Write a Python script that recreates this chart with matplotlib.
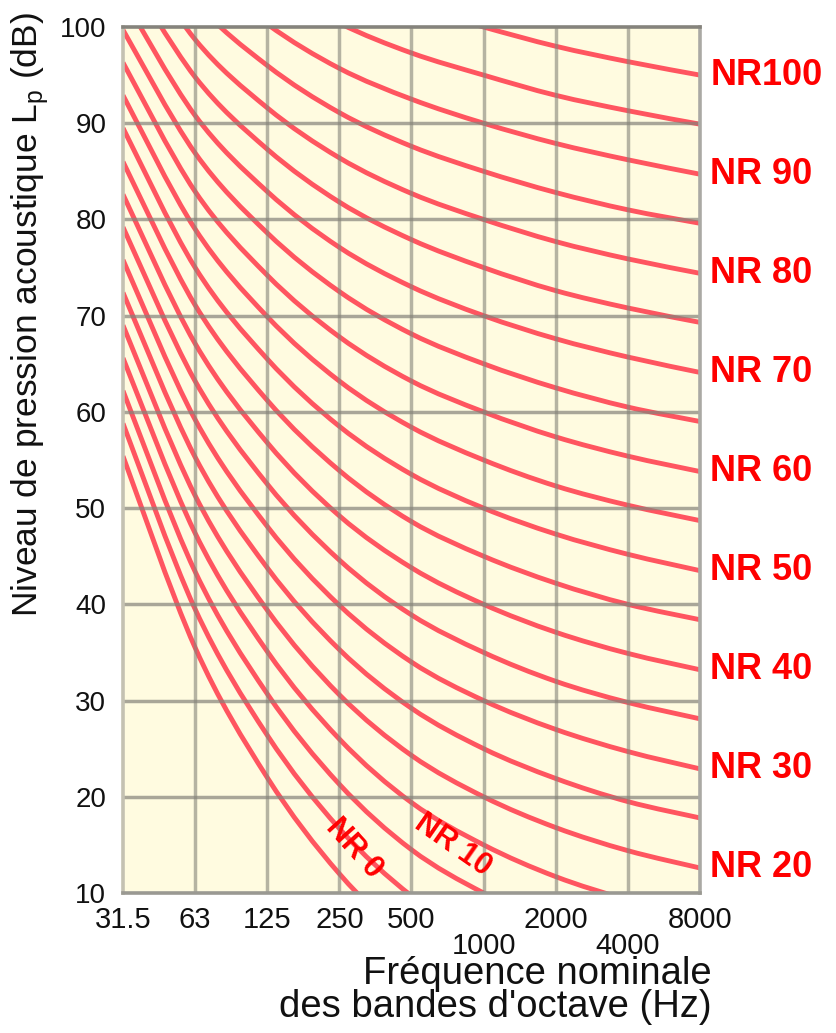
import matplotlib
matplotlib.use("Agg")
import matplotlib.pyplot as plt
import numpy as np
from matplotlib.path import Path
from matplotlib.patches import PathPatch

plt.rcParams['font.family'] = ['Liberation Sans', 'DejaVu Sans']
plt.rcParams['mathtext.fontset'] = 'custom'
plt.rcParams['mathtext.rm'] = 'Liberation Sans'

# Octave-band centre frequencies (Hz)
freq_labels = ["31.5", "63", "125", "250", "500", "1000", "2000", "4000", "8000"]

# Noise Rating levels (dB) per octave band, one row per NR curve
nr_values = [0, 5, 10, 15, 20, 25, 30, 35, 40, 45, 50,
             55, 60, 65, 70, 75, 80, 85, 90, 95, 100]
nr_levels = [
    [55.4, 35.5, 22.0, 12.0, 4.8, 0.0, -3.5, -6.1, -8.0],
    [58.8, 39.5, 26.4, 16.7, 9.7, 5.0, 1.6, -1.0, -2.9],
    [62.2, 43.4, 30.7, 21.3, 14.5, 10.0, 6.7, 4.2, 2.3],
    [65.6, 47.4, 35.1, 26.0, 19.4, 15.0, 11.7, 9.3, 7.5],
    [69.0, 51.3, 39.4, 30.6, 24.3, 20.0, 16.8, 14.4, 12.6],
    [72.4, 55.3, 43.8, 35.3, 29.2, 25.0, 21.9, 19.5, 17.8],
    [75.8, 59.2, 48.1, 39.9, 34.0, 30.0, 27.0, 24.7, 22.9],
    [79.2, 63.2, 52.5, 44.6, 38.9, 35.0, 32.0, 29.8, 28.1],
    [82.6, 67.1, 56.8, 49.2, 43.8, 40.0, 37.1, 34.9, 33.2],
    [86.0, 71.1, 61.2, 53.9, 48.6, 45.0, 42.2, 40.0, 38.4],
    [89.5, 75.0, 65.5, 58.5, 53.5, 50.0, 47.3, 45.2, 43.5],
    [92.9, 79.0, 69.9, 63.2, 58.4, 55.0, 52.3, 50.3, 48.7],
    [96.3, 82.9, 74.2, 67.8, 63.2, 60.0, 57.4, 55.4, 53.8],
    [99.7, 86.9, 78.6, 72.5, 68.1, 65.0, 62.5, 60.5, 59.0],
    [103.1, 90.8, 82.9, 77.1, 73.0, 70.0, 67.6, 65.7, 64.1],
    [106.5, 94.8, 87.3, 81.8, 77.9, 75.0, 72.6, 70.8, 69.3],
    [109.9, 98.7, 91.6, 86.4, 82.7, 80.0, 77.7, 75.9, 74.4],
    [113.3, 102.7, 96.0, 91.1, 87.6, 85.0, 82.8, 81.0, 79.6],
    [116.7, 106.6, 100.3, 95.7, 92.5, 90.0, 87.9, 86.2, 84.7],
    [120.1, 110.6, 104.7, 100.4, 97.3, 95.0, 92.9, 91.3, 89.9],
    [123.5, 114.5, 109.0, 105.0, 102.2, 100.0, 98.0, 96.4, 95.0],
]
right_labels = ["NR100", "NR 90", "NR 80", "NR 70", "NR 60",
                "NR 50", "NR 40", "NR 30", "NR 20"]
right_label_nr = [100, 90, 80, 70, 60, 50, 40, 30, 20]
y_ticks = [10, 20, 30, 40, 50, 60, 70, 80, 90, 100]

CURVE_RED = '#ff5560'
LABEL_RED = '#ff0000'

fig = plt.figure(figsize=(8.36, 10.33), dpi=100)
ax = fig.add_axes([123 / 836, 1 - 893 / 1033, 577 / 836, 866 / 1033])
ax.set_facecolor('#fffbe0')

x = np.arange(len(freq_labels))


def smooth_path(xs, ys):
    """Catmull-Rom spline through the points, expressed as cubic Beziers."""
    pts = np.column_stack([xs, ys]).astype(float)
    verts = [pts[0]]
    codes = [Path.MOVETO]
    n = len(pts)
    for i in range(n - 1):
        p0 = pts[i - 1] if i > 0 else pts[i]
        p1 = pts[i]
        p2 = pts[i + 1]
        p3 = pts[i + 2] if i + 2 < n else pts[i + 1]
        c1 = p1 + (p2 - p0) / 6.0
        c2 = p2 - (p3 - p1) / 6.0
        verts += [c1, c2, p2]
        codes += [Path.CURVE4] * 3
    return Path(verts, codes)


for nr, levels in zip(nr_values, nr_levels):
    patch = PathPatch(smooth_path(x, levels), facecolor='none',
                      edgecolor=CURVE_RED, lw=3.5, zorder=2,
                      capstyle='butt')
    ax.add_patch(patch)

ax.set_xlim(0, len(freq_labels) - 1)
ax.set_ylim(10, 100)

# grid drawn above the curves
for xi in x[1:-1]:
    ax.axvline(xi, color='#85837a', lw=2.5, alpha=0.6, zorder=3)
for yv in y_ticks[1:-1]:
    ax.axhline(yv, color='#85837a', lw=2.5, alpha=0.7, zorder=3)

for side, col in [('top', '#85837c'), ('left', '#c4c1b2'),
                  ('right', '#aaa9a4'), ('bottom', '#9a9992')]:
    ax.spines[side].set_color(col)
    ax.spines[side].set_linewidth(2.6)
    ax.spines[side].set_zorder(4)

ax.set_yticks(y_ticks)
ax.set_yticklabels([str(v) for v in y_ticks], fontsize=20, color='#111111')
ax.set_xticks(x)
xt = [("\n" + s) if s in ("1000", "4000") else s for s in freq_labels]
ax.set_xticklabels(xt, fontsize=21, color='#111111', linespacing=0.95)
ax.tick_params(axis='both', length=0)
ax.tick_params(axis='y', pad=12)
ax.tick_params(axis='x', pad=9)

# NR labels at the right end of the curves
for lab, nr in zip(right_labels, right_label_nr):
    end_level = nr_levels[nr_values.index(nr)][-1]
    ax.text(1.018, end_level, lab, transform=ax.get_yaxis_transform(),
            ha='left', va='center', fontsize=26, fontweight='bold',
            color=LABEL_RED, clip_on=False)

# labels sitting along the lowest curves
ax.text(3.2, 14.6, "NR 0", rotation=-48, rotation_mode='anchor',
        ha='center', va='center', fontsize=22, fontweight='bold',
        color=LABEL_RED, zorder=5)
ax.text(4.57, 15.0, "NR 10", rotation=-35, rotation_mode='anchor',
        ha='center', va='center', fontsize=22, fontweight='bold',
        color=LABEL_RED, zorder=5)

fig.text(30 / 836, 1 - 315 / 1033,
         r"Niveau de pression acoustique L$_{\mathregular{p}}$ (dB)",
         rotation=90, ha='center', va='center', fontsize=25.5,
         color='#111111')
fig.text(712 / 836, 1 - 956 / 1033,
         "Fréquence nominale\ndes bandes d'octave (Hz)",
         ha='right', va='top', multialignment='right', fontsize=27.5,
         color='#111111', linespacing=0.88)

fig.savefig("out.png", dpi=100, facecolor='white')
